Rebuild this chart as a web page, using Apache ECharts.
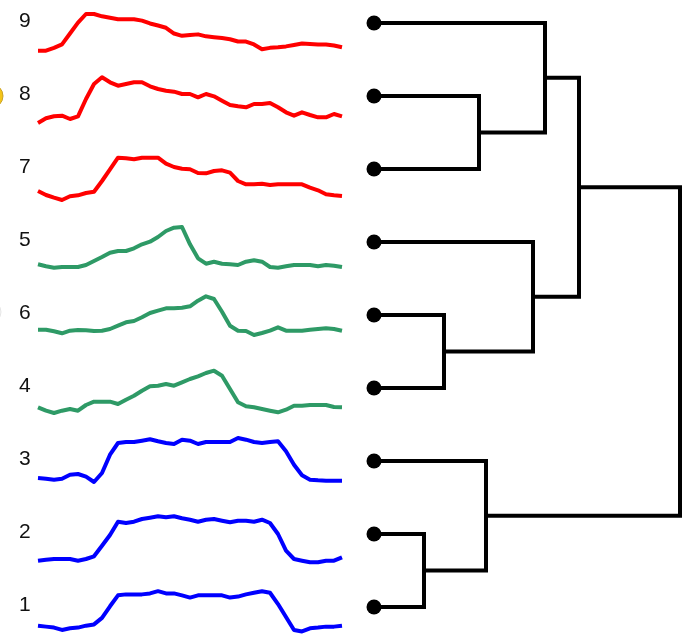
<!DOCTYPE html>
<html>
<head>
<meta charset="utf-8">
<script src="https://cdn.jsdelivr.net/npm/echarts@6/dist/echarts.min.js"></script>
<style>
  html, body { margin: 0; padding: 0; background: #fff; }
  #chart { width: 687px; height: 637px; }
</style>
</head>
<body>
<div id="chart"></div>
<script>
// leaf order, top to bottom
var labels = ['9', '8', '7', '5', '6', '4', '3', '2', '1'];
var groupOf = ['red', 'red', 'red', 'green', 'green', 'green', 'blue', 'blue', 'blue'];

// sampled signals (39 samples each), arbitrary units
var s9 = [5, 5, 8.3, 12.3, 25, 37.7, 47.7, 47.7, 45, 43.3, 41.7, 41.7, 41.7, 40, 36.7, 34.3, 31.7, 25, 22.3, 23.3, 24, 21.7, 20.7, 19.7, 18.3, 15.7, 15.7, 12.3, 6.7, 8.3, 9, 10, 11.7, 13.3, 12.7, 12.3, 12.3, 11, 9];
var s8 = [5, 9.7, 11.7, 12.3, 9, 11.7, 29, 44, 50.7, 45.7, 42.3, 44, 45.7, 45.7, 41.7, 39, 37.3, 36.3, 34, 34, 30.7, 34, 31.7, 27.3, 23, 21.7, 20.7, 24, 24, 25, 20.7, 15.7, 12.3, 15.7, 13, 10.7, 10.7, 14, 11.7];
var s7 = [10, 6, 3.3, 1, 4.7, 5.7, 8, 9.3, 20, 31.7, 43.3, 42.7, 41.7, 43.3, 43.3, 43.3, 37.3, 34, 32.3, 31.7, 28, 27.7, 30, 30.7, 28.3, 20, 16.7, 16.7, 17.3, 16, 16.7, 16.7, 16.7, 16.7, 13.3, 10.7, 6.7, 5.7, 5];
var s5 = [9.7, 7.7, 6.3, 7, 7, 7, 9, 13, 17, 21.3, 23, 23, 25.7, 29.7, 32.3, 37, 43, 46.3, 47, 29.7, 15.7, 10.3, 12.3, 10.3, 9.7, 9, 12.3, 13.7, 12.3, 7, 6.3, 7.7, 9, 9, 9, 7.7, 9, 8.3, 7];
var s6 = [17.3, 17.3, 15.7, 13.7, 16.3, 17, 16.7, 16, 16.3, 18, 21.3, 24.7, 26, 29.7, 34, 36.3, 38.7, 38.7, 39.3, 40.7, 46.3, 50.7, 48, 35.3, 21.3, 16.3, 16, 12, 14, 16.3, 19.7, 16.3, 16.3, 16.3, 17.3, 18, 18.7, 18, 16.3];
var s4 = [12.7, 9.3, 7, 9.3, 11, 9.3, 15, 18.3, 18.3, 18.3, 16, 20.3, 24.3, 29.3, 33.7, 34.3, 36, 34.3, 37.7, 41, 43.7, 47, 49.3, 44.3, 31, 17.7, 13.7, 12.7, 11, 9.3, 7.7, 10.3, 14.3, 14.3, 15, 15, 15, 13, 12.7];
var s3 = [15, 14.3, 13.3, 14.3, 18.3, 19, 16.3, 11, 20, 38.3, 50, 51, 51, 52.3, 53.7, 51.7, 50, 49, 53.3, 52.3, 49, 51, 51, 51, 51, 55, 53.3, 51, 50, 51, 51.7, 41.7, 28.3, 17.7, 13.3, 12.7, 12.3, 12.3, 12.3];
var s2 = [5.3, 6.3, 7, 7, 7, 5.3, 7, 9.7, 20.3, 31, 44.3, 43, 44.3, 47, 48.3, 49.7, 48.7, 49.7, 47.7, 46.3, 44.3, 46.3, 47, 45.3, 43.7, 45.3, 45.3, 44.3, 46.3, 43, 32, 15.3, 7, 5.3, 3.7, 3.7, 5.3, 5.3, 8.7];
var s1 = [11.7, 10.7, 9.7, 7.3, 9, 9.7, 11.7, 13, 19.7, 31.7, 43, 44, 44, 44, 45, 47.3, 45, 45, 43, 40.7, 43, 43, 43, 43, 40.7, 41.7, 44, 45.7, 47.3, 45.7, 34, 20.7, 7.3, 5.7, 9, 9.7, 10.7, 10.7, 11.7];
var signals = [s9, s8, s7, s5, s6, s4, s3, s2, s1];

// linkage: [name, left, right, distance]; numbers are leaf rows, letters are clusters
var merges = [
  ['A', 1, 2, 1.05],
  ['B', 0, 'A', 1.71],
  ['C', 4, 5, 0.70],
  ['D', 3, 'C', 1.59],
  ['E', 'B', 'D', 2.05],
  ['F', 7, 8, 0.50],
  ['G', 6, 'F', 1.12],
  ['R', 'E', 'G', 3.06]
];

var colors = { red: '#ff0000', green: '#2e9a66', blue: '#0000ff' };
var leafTop = 23, leafStep = 73;

var grids = [], xAxes = [], yAxes = [], series = [], graphics = [];

signals.forEach(function (vals, k) {
  var cy = leafTop + leafStep * k;
  grids.push({ left: 38, width: 304, top: cy - 32, height: 64 });
  xAxes.push({ type: 'category', gridIndex: k, show: false, boundaryGap: false,
    data: vals.map(function (_, i) { return i; }) });
  yAxes.push({ type: 'value', gridIndex: k, show: false, min: 0, max: 64 });
  series.push({
    type: 'line', xAxisIndex: k, yAxisIndex: k, data: vals,
    showSymbol: false, clip: false, silent: true,
    lineStyle: { color: colors[groupOf[k]], width: 4, join: 'round' }
  });
  graphics.push({
    type: 'text', left: 19, top: cy - 12,
    style: { text: labels[k], fontFamily: 'Liberation Sans, Arial', fontSize: 21, fill: '#111' }
  });
});

// dendrogram
var d = signals.length;
grids.push({ left: 374, width: 306, top: leafTop, height: leafStep * 8 });
xAxes.push({ type: 'value', gridIndex: d, show: false, min: 0, max: 3.06 });
yAxes.push({ type: 'value', gridIndex: d, show: false, min: 0, max: 8, inverse: true });

var node = {};
labels.forEach(function (_, i) { node[i] = { y: i, h: 0 }; });
merges.forEach(function (m) {
  var a = node[m[1]], b = node[m[2]], h = m[3];
  node[m[0]] = { y: (a.y + b.y) / 2, h: h };
  series.push({
    type: 'line', xAxisIndex: d, yAxisIndex: d, showSymbol: false, clip: false, silent: true,
    data: [[a.h, a.y], [h, a.y], [h, b.y], [b.h, b.y]],
    lineStyle: { color: '#000', width: 4, join: 'miter', cap: 'square' }
  });
});
series.push({
  type: 'scatter', xAxisIndex: d, yAxisIndex: d, symbolSize: 15, silent: true,
  itemStyle: { color: '#000', opacity: 1 }, clip: false, z: 3,
  data: labels.map(function (_, i) { return [0, i]; })
});

// cropped-off markers at the left edge
graphics.push({ type: 'circle', shape: { cx: -9, cy: 96, r: 12 },
  style: { fill: '#f5c518', stroke: '#c9a227', lineWidth: 1 } });
graphics.push({ type: 'circle', shape: { cx: -10, cy: 312, r: 11 },
  style: { fill: '#f7f7f7', stroke: '#e6e6e6', lineWidth: 1 } });

var chart = echarts.init(document.getElementById('chart'), null, { renderer: 'canvas' });
chart.setOption({
  animation: false,
  backgroundColor: '#fff',
  grid: grids,
  xAxis: xAxes,
  yAxis: yAxes,
  series: series,
  graphic: graphics
});
</script>
</body>
</html>
